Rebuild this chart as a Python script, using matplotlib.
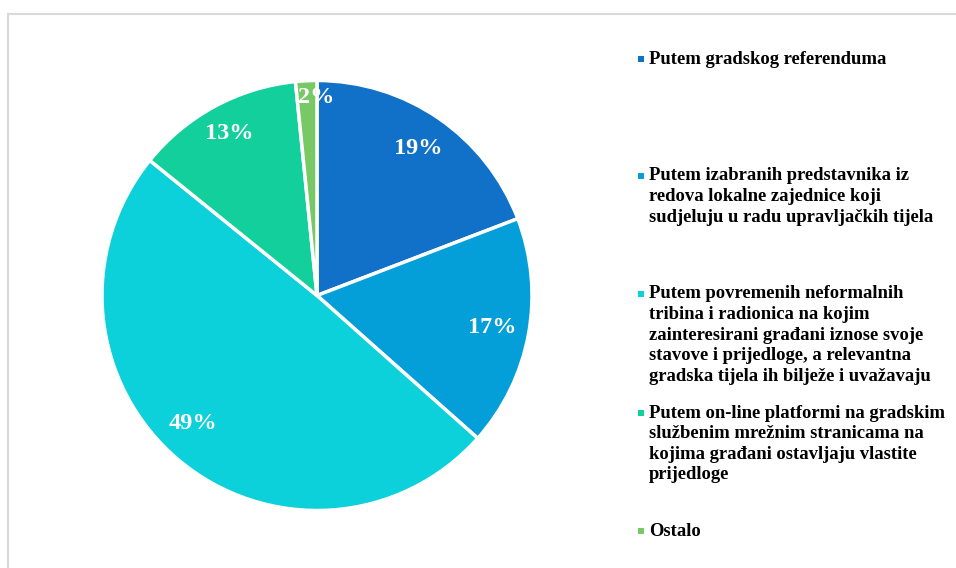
import matplotlib
matplotlib.use("Agg")
import matplotlib.pyplot as plt
from matplotlib.patches import Rectangle
from matplotlib.lines import Line2D
import numpy as np

categories = [
    "Putem gradskog referenduma",
    "Putem izabranih predstavnika iz\nredova lokalne zajednice koji\nsudjeluju u radu upravljačkih tijela",
    "Putem povremenih neformalnih\ntribina i radionica na kojim\nzainteresirani građani iznose svoje\nstavove i prijedloge, a relevantna\ngradska tijela ih bilježe i uvažavaju",
    "Putem on-line platformi na gradskim\nslužbenim mrežnim stranicama na\nkojima građani ostavljaju vlastite\nprijedloge",
    "Ostalo",
]
values = [19.2, 17.4, 49.3, 12.6, 1.6]
colors = ["#1170C8", "#049FD9", "#0CD0DA", "#13CF9B", "#78C965"]
label_dist = [0.83, 0.83, 0.83, 0.855, 0.92]
label_shift = [0, 0, -3.7, 0, -2.6]

W, H = 956, 568
fig = plt.figure(figsize=(W / 100, H / 100), dpi=100)
fig.patch.set_facecolor("white")

# frame
fig.add_artist(Line2D([8 / W, 1.0], [1 - 14 / H, 1 - 14 / H], color="#D9D9D9", lw=1.5))
fig.add_artist(Line2D([8 / W, 8 / W], [0, 1 - 14 / H], color="#D9D9D9", lw=1.5))

cx, cy, R = 317, 295.5, 215
ax = fig.add_axes([(cx - R) / W, (H - cy - R) / H, 2 * R / W, 2 * R / H])
wedges, texts, autotexts = ax.pie(
    values, colors=colors, startangle=90, counterclock=False,
    autopct="%.0f%%", pctdistance=0.83,
    wedgeprops=dict(edgecolor="white", linewidth=2.5),
    textprops=dict(color="white", fontsize=17.5, fontweight="bold", family="Liberation Serif"),
)
for w, t, d, s in zip(wedges, autotexts, label_dist, label_shift):
    ang = np.deg2rad((w.theta1 + w.theta2) / 2 + s)
    t.set_position((d * np.cos(ang), d * np.sin(ang)))
ax.set_xlim(-1, 1)
ax.set_ylim(-1, 1)
ax.set_aspect("equal")
ax.axis("off")

# legend
baselines = [65, 182, 300, 419, 537]
for lab, col, b in zip(categories, colors, baselines):
    fig.text(649 / W, 1 - (b - 14.5) / H, lab, ha="left", va="top",
             fontsize=13.4, fontweight="bold", family="Liberation Serif",
             color="black", linespacing=1.27)
    fig.add_artist(Rectangle(((640.5 - 3) / W, 1 - (b - 6.3 + 3) / H), 6 / W, 6 / H,
                             facecolor=col, edgecolor="none", transform=fig.transFigure))

fig.savefig("out.png", dpi=100, facecolor="white")
